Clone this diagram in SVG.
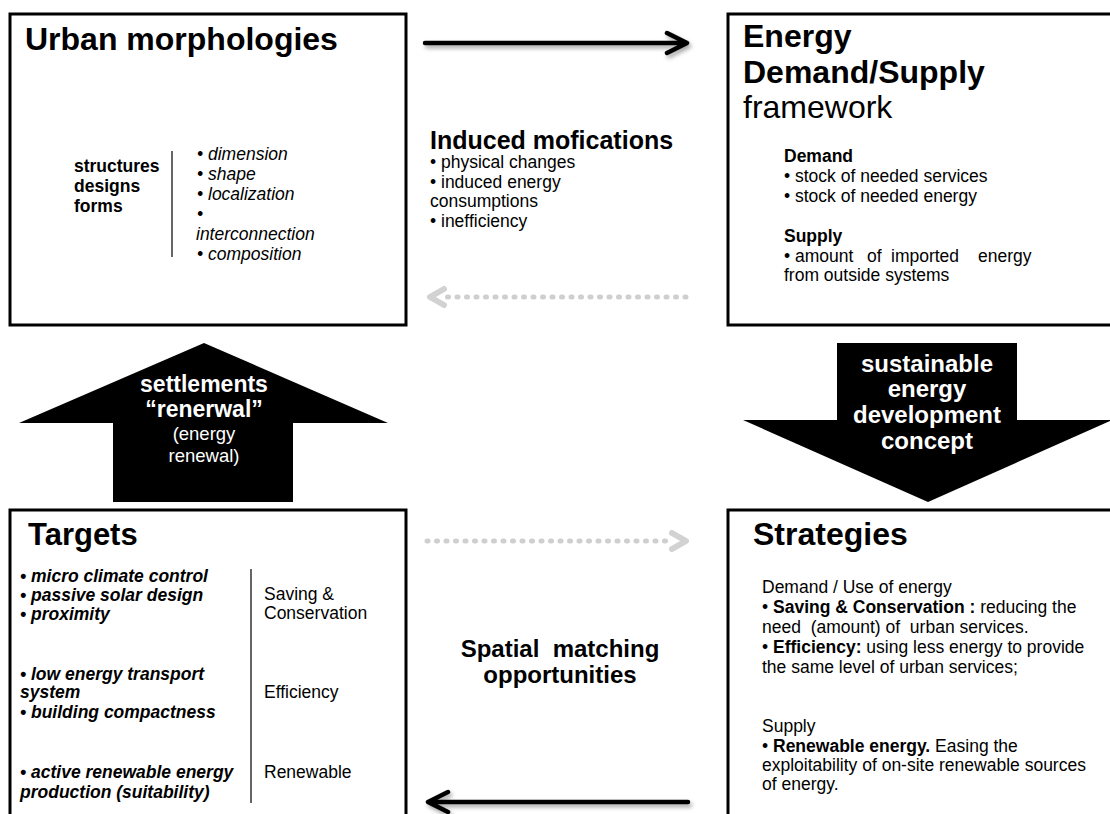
<svg xmlns="http://www.w3.org/2000/svg" width="1110" height="814" viewBox="0 0 1110 814">
<defs>
<style>
text{font-family:"Liberation Sans",Arial,sans-serif;fill:#000}
.title{font-size:32px;font-weight:bold}
.b{font-weight:bold}
.t{font-size:17.5px}
.it{font-style:italic}
.w{fill:#fff;text-anchor:middle}
.box{fill:#fff;stroke:#000;stroke-width:3}
.sep{stroke:#333;stroke-width:1.5}
.solid{fill:none;stroke:#000;stroke-width:4.5;stroke-linecap:round;stroke-linejoin:round}
.dot{fill:none;stroke:#cfcfcf;stroke-width:5;stroke-linecap:round;stroke-dasharray:1 8.5}
.dhead{fill:none;stroke:#d2d2d2;stroke-width:6;stroke-linecap:round;stroke-linejoin:round}
</style>
<filter id="sh" x="-10%" y="-50%" width="120%" height="200%">
<feDropShadow dx="2" dy="3" stdDeviation="2" flood-color="#000" flood-opacity="0.35"/>
</filter>
</defs>
<rect width="1110" height="814" fill="#fff"/>

<g id="urban-morphologies">
<rect class="box" x="10" y="14" width="396" height="311"/>
<text class="title" x="25" y="50">Urban morphologies</text>
<text class="t b" x="74" y="172">structures</text>
<text class="t b" x="74" y="192">designs</text>
<text class="t b" x="74" y="212">forms</text>
<line class="sep" x1="172" y1="151" x2="172" y2="257"/>
<text class="t it" x="197" y="160">• dimension</text>
<text class="t it" x="197" y="180">• shape</text>
<text class="t it" x="197" y="200">• localization</text>
<text class="t it" x="197" y="220">•</text>
<text class="t it" x="196" y="240">interconnection</text>
<text class="t it" x="197" y="260">• composition</text>
</g>

<g id="energy-framework">
<rect class="box" x="728" y="14" width="400" height="311"/>
<text class="title" x="743" y="47">Energy</text>
<text class="title" x="743" y="83">Demand/Supply</text>
<text x="743" y="118" style="font-size:32px">framework</text>
<text class="t b" x="784" y="162">Demand</text>
<text class="t" x="784" y="182">• stock of needed services</text>
<text class="t" x="784" y="202">• stock of needed energy</text>
<text class="t b" x="784" y="242">Supply</text>
<text class="t" y="262"><tspan x="784">• amount</tspan><tspan x="867">of</tspan><tspan x="891">imported</tspan><tspan x="978">energy</tspan></text>
<text class="t" x="784" y="281">from outside systems</text>
</g>

<g id="induced-modifications">
<text class="b" x="430" y="149" style="font-size:25px">Induced mofications</text>
<text class="t" x="430" y="168">• physical changes</text>
<text class="t" x="430" y="188">• induced energy</text>
<text class="t" x="430" y="207">consumptions</text>
<text class="t" x="430" y="227">• inefficiency</text>
</g>

<g id="settlements-renewal">
<polygon points="204,343 388,423 293,423 293,502 113,502 113,423 19,423" fill="#000"/>
<text class="w b" x="204" y="392" style="font-size:23px">settlements</text>
<text class="w b" x="204" y="417" style="font-size:23px">“renerwal”</text>
<text class="w" x="204" y="440" style="font-size:18.5px">(energy</text>
<text class="w" x="204" y="462" style="font-size:18.5px">renewal)</text>
</g>

<g id="sustainable-concept">
<polygon points="837,343 1017,343 1017,420 1112,420 928,502 743,420 837,420" fill="#000"/>
<text class="w b" x="927" y="372" style="font-size:24px">sustainable</text>
<text class="w b" x="927" y="397" style="font-size:24px">energy</text>
<text class="w b" x="927" y="423" style="font-size:24px">development</text>
<text class="w b" x="927" y="449" style="font-size:24px">concept</text>
</g>

<g id="targets">
<rect class="box" x="10" y="510" width="396" height="320"/>
<text class="b" x="28" y="545" style="font-size:31px">Targets</text>
<text class="t b it" x="20" y="582">• micro climate control</text>
<text class="t b it" x="20" y="601">• passive solar design</text>
<text class="t b it" x="20" y="620">• proximity</text>
<text class="t b it" x="20" y="680">• low energy transport</text>
<text class="t b it" x="20" y="698">system</text>
<text class="t b it" x="20" y="718">• building compactness</text>
<text class="t b it" x="20" y="778">• active renewable energy</text>
<text class="t b it" x="20" y="798">production (suitability)</text>
<line class="sep" x1="251" y1="569" x2="251" y2="803"/>
<text class="t" x="264" y="600">Saving &amp;</text>
<text class="t" x="264" y="619">Conservation</text>
<text class="t" x="264" y="698">Efficiency</text>
<text class="t" x="264" y="778">Renewable</text>
</g>

<g id="strategies">
<rect class="box" x="728" y="510" width="400" height="320"/>
<text class="title" x="753" y="545">Strategies</text>
<text class="t" x="762" y="593">Demand / Use of energy</text>
<text class="t" x="762" y="613">• <tspan class="b">Saving &amp; Conservation :</tspan> reducing the</text>
<text class="t" x="762" y="633" xml:space="preserve">need  (amount) of  urban services.</text>
<text class="t" x="762" y="653">• <tspan class="b">Efficiency:</tspan> using less energy to provide</text>
<text class="t" x="762" y="673">the same level of urban services;</text>
<text class="t" x="762" y="732">Supply</text>
<text class="t" x="762" y="752">• <tspan class="b">Renewable energy.</tspan> Easing the</text>
<text class="t" x="762" y="771">exploitability of on-site renewable sources</text>
<text class="t" x="762" y="790">of energy.</text>
</g>

<g id="spatial-matching">
<text class="b" x="560" y="657" text-anchor="middle" style="font-size:24px" xml:space="preserve">Spatial  matching</text>
<text class="b" x="560" y="683" text-anchor="middle" style="font-size:24px">opportunities</text>
</g>

<g id="connectors">
<g filter="url(#sh)">
<path class="solid" d="M425,43 H685 M667,33 L687,43 L667,53"/>
<path class="solid" d="M688,802 H430 M448,792 L428,802 L448,812"/>
</g>
<path class="dot" d="M686,297 H440"/>
<path class="dhead" d="M444,289 L430,297 L444,305"/>
<path class="dot" d="M427,541 H672"/>
<path class="dhead" d="M672,533 L686,541 L672,549"/>
</g>
</svg>
